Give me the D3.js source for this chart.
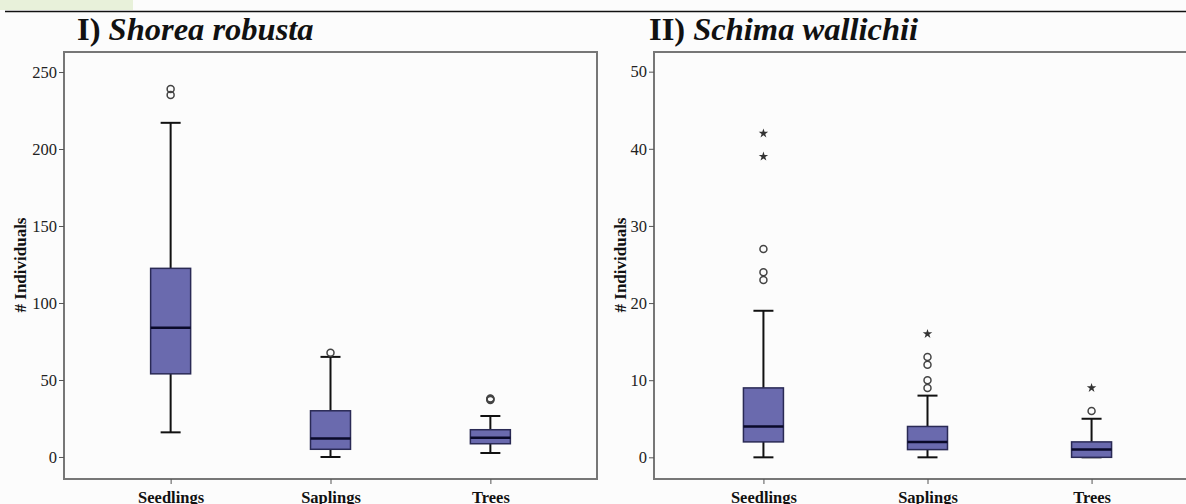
<!DOCTYPE html>
<html>
<head>
<meta charset="utf-8">
<script src="https://cdn.jsdelivr.net/npm/d3@7"></script>
<style>
  body { margin: 0; background: #fcfcfc; }
  svg { display: block; }
</style>
</head>
<body>
<script>
let width = 1186,
    height = 504;

// categories and tick values
const categories = ["Seedlings", "Saplings", "Trees"];
const shoreaTicks = [0, 50, 100, 150, 200, 250];
const schimaTicks = [0, 10, 20, 30, 40, 50];

// I) Shorea robusta, box statistics per category
const shoreaLow = [16, 0, 2.6];
const shoreaQ1 = [54, 5, 8.6];
const shoreaMedian = [84, 12, 12.5];
const shoreaQ3 = [122.5, 30, 17.7];
const shoreaHigh = [217, 65, 26.6];
const shoreaOutliers = [[239, 235], [67.7], [37, 37.6, 38]];
const shoreaExtremes = [[], [], []];

// II) Schima wallichii
const schimaLow = [0, 0, 0];
const schimaQ1 = [2, 1, 0];
const schimaMedian = [4, 2, 1];
const schimaQ3 = [9, 4, 2];
const schimaHigh = [19, 8, 5];
const schimaOutliers = [[27, 24, 23], [13, 12, 10, 9], [6]];
const schimaExtremes = [[42, 39], [16], [9]];

let svg = d3.select("body")
    .append("svg")
    .attr("width", width)
    .attr("height", height)
    .style("font-family", "'Liberation Serif', 'Times New Roman', serif");

svg.append("rect")
    .attr("width", width).attr("height", height)
    .attr("fill", "#fcfcfc");

// little green tab in the corner and the page rule
svg.append("rect")
    .attr("x", 0).attr("y", 0)
    .attr("width", 133).attr("height", 10)
    .attr("fill", "#e8f1da");

svg.append("line")
    .attr("x1", 5).attr("x2", width)
    .attr("y1", 11.5).attr("y2", 11.5)
    .attr("stroke", "#111")
    .attr("stroke-width", 1.5);

function panel(opts) {
  let g = svg.append("g");

  let y = d3.scaleLinear()
      .domain(opts.domain)
      .range([479, 52]);

  let x = d3.scalePoint()
      .domain(categories)
      .range([opts.left, opts.right])
      .padding(0.667);

  // frame
  g.append("rect")
      .attr("x", opts.left)
      .attr("y", 52)
      .attr("width", opts.right - opts.left)
      .attr("height", 479 - 52)
      .attr("fill", "none")
      .attr("stroke", "#777")
      .attr("stroke-width", 2);

  // y axis
  let yAxis = g.append("g")
      .attr("transform", "translate(" + opts.left + ",0)")
      .call(d3.axisLeft(y).tickValues(opts.ticks).tickSize(5).tickPadding(2));
  yAxis.select(".domain").remove();
  yAxis.selectAll("line").attr("stroke", "#555");
  yAxis.selectAll("text")
      .style("font-family", "'Liberation Serif', serif")
      .style("font-size", "16.5px")
      .attr("fill", "#222");

  // x axis
  let xAxis = g.append("g")
      .attr("transform", "translate(0,479)")
      .call(d3.axisBottom(x).tickSize(5).tickPadding(7));
  xAxis.select(".domain").remove();
  xAxis.selectAll("line").attr("stroke", "#555");
  xAxis.selectAll("text")
      .style("font-family", "'Liberation Serif', serif")
      .style("font-size", "16.5px")
      .style("font-weight", "bold")
      .attr("fill", "#111");

  // y label
  g.append("text")
      .attr("transform", "translate(" + opts.labelX + ",265) rotate(-90)")
      .attr("text-anchor", "middle")
      .attr("dy", "0.35em")
      .style("font-size", "17px")
      .style("font-weight", "bold")
      .attr("fill", "#111")
      .text("# Individuals");

  // title
  let t = svg.append("text")
      .attr("x", opts.titleX)
      .attr("y", 40)
      .style("font-size", "32.5px")
      .style("font-weight", "bold")
      .attr("fill", "#111");
  t.append("tspan").text(opts.numeral + " ");
  t.append("tspan").style("font-style", "italic").text(opts.title);

  let boxW = 40, capW = 20;

  categories.forEach((c, i) => {
    let cx = x(c);
    let bg = g.append("g");

    // whisker stems
    bg.append("line")
        .attr("x1", cx).attr("x2", cx)
        .attr("y1", y(opts.high[i])).attr("y2", y(opts.q3[i]))
        .attr("stroke", "#111").attr("stroke-width", 2);
    bg.append("line")
        .attr("x1", cx).attr("x2", cx)
        .attr("y1", y(opts.low[i])).attr("y2", y(opts.q1[i]))
        .attr("stroke", "#111").attr("stroke-width", 2);

    // caps
    [opts.high[i], opts.low[i]].forEach(v => {
      bg.append("line")
          .attr("x1", cx - capW / 2).attr("x2", cx + capW / 2)
          .attr("y1", y(v)).attr("y2", y(v))
          .attr("stroke", "#111").attr("stroke-width", 2);
    });

    // box
    bg.append("rect")
        .attr("x", cx - boxW / 2)
        .attr("y", y(opts.q3[i]))
        .attr("width", boxW)
        .attr("height", y(opts.q1[i]) - y(opts.q3[i]))
        .attr("fill", "#6a6aae")
        .attr("stroke", "#2a2a55")
        .attr("stroke-width", 1.5);

    // median
    bg.append("line")
        .attr("x1", cx - boxW / 2).attr("x2", cx + boxW / 2)
        .attr("y1", y(opts.median[i])).attr("y2", y(opts.median[i]))
        .attr("stroke", "#0a0a2a").attr("stroke-width", 2.5);

    // outliers
    bg.selectAll("circle")
        .data(opts.outliers[i])
        .enter()
        .append("circle")
        .attr("cx", cx)
        .attr("cy", d => y(d))
        .attr("r", 3.5)
        .attr("fill", "none")
        .attr("stroke", "#444")
        .attr("stroke-width", 1.5);

    // extremes
    bg.selectAll("path.star")
        .data(opts.extremes[i])
        .enter()
        .append("path")
        .attr("class", "star")
        .attr("d", d3.symbol().type(d3.symbolStar).size(28))
        .attr("transform", d => "translate(" + cx + "," + y(d) + ")")
        .attr("fill", "#333");
  });
}

panel({
  left: 64, right: 597,
  domain: [-14.3, 263],
  ticks: shoreaTicks,
  labelX: 20,
  titleX: 77,
  numeral: "I)",
  title: "Shorea robusta",
  low: shoreaLow, q1: shoreaQ1, median: shoreaMedian, q3: shoreaQ3, high: shoreaHigh,
  outliers: shoreaOutliers, extremes: shoreaExtremes
});

panel({
  left: 654, right: 1201,
  domain: [-2.81, 52.55],
  ticks: schimaTicks,
  labelX: 620,
  titleX: 649,
  numeral: "II)",
  title: "Schima wallichii",
  low: schimaLow, q1: schimaQ1, median: schimaMedian, q3: schimaQ3, high: schimaHigh,
  outliers: schimaOutliers, extremes: schimaExtremes
});
</script>
</body>
</html>
